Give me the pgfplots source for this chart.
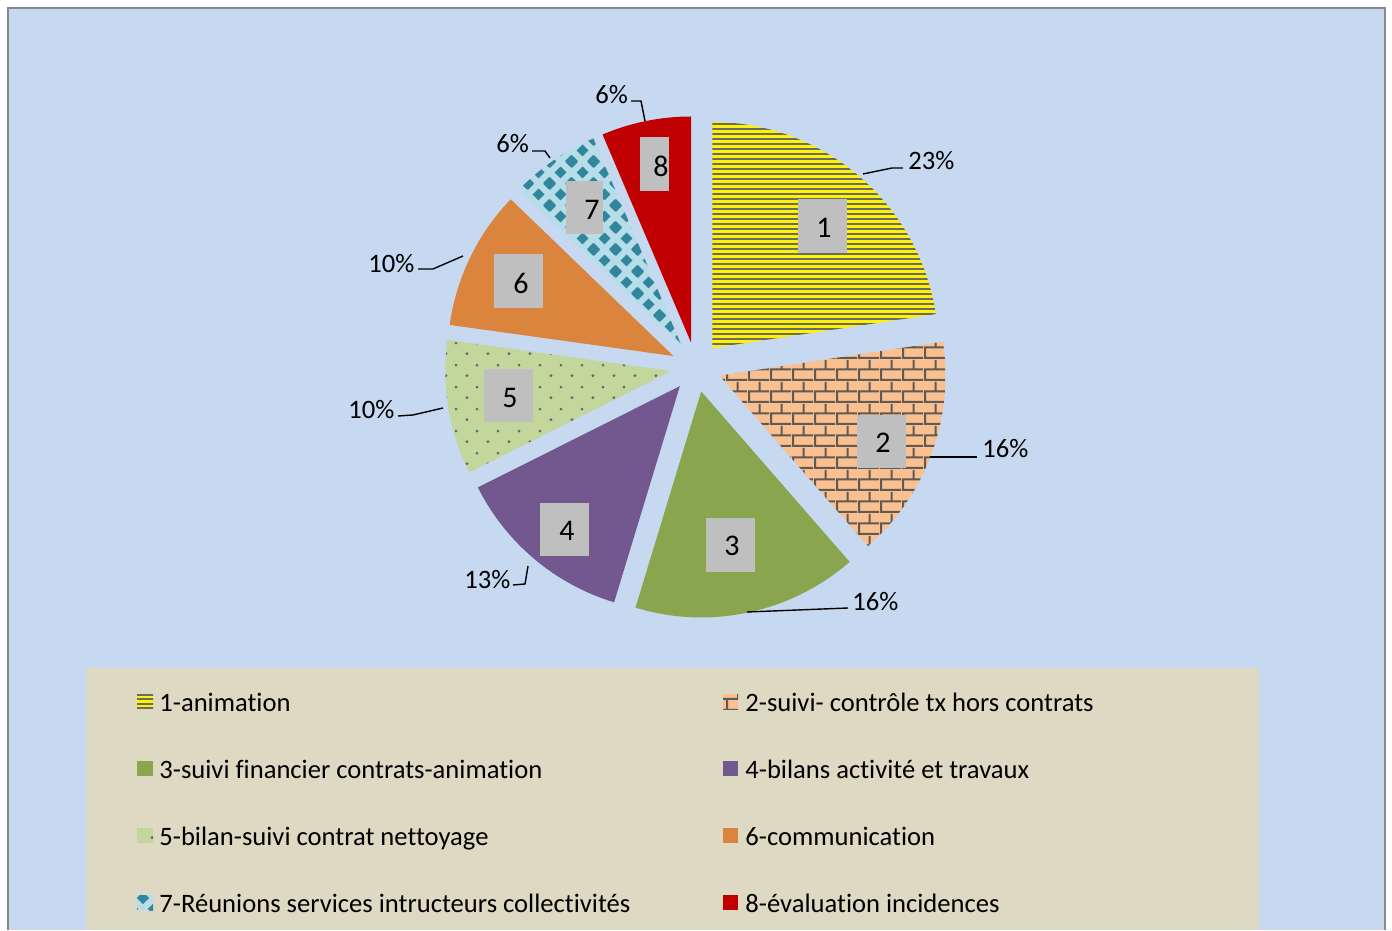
\documentclass[border=0pt]{standalone}
\usepackage{pgfplots}
\pgfplotsset{compat=1.18}
\usepackage{pgfplotstable}
\usepackage{fontspec}
\setmainfont{Carlito}[Ligatures={NoCommon,NoRequired,NoContextual}]
\usetikzlibrary{patterns}

\definecolor{bgblue}{HTML}{C6D9F1}
\definecolor{legbg}{HTML}{DDD9C3}
\definecolor{framegray}{HTML}{888888}
\definecolor{stripegray}{HTML}{6A6A6A}
\definecolor{peach}{HTML}{FAC090}
\definecolor{mortar}{HTML}{5F5A56}
\definecolor{olivegreen}{HTML}{89A64F}
\definecolor{purp}{HTML}{72588F}
\definecolor{lightgreen}{HTML}{C3D69B}
\definecolor{dotgray}{HTML}{666666}
\definecolor{orng}{HTML}{DB843D}
\definecolor{lightblue}{HTML}{B7DEE8}
\definecolor{teal}{HTML}{31859C}
\definecolor{darkred}{HTML}{C00000}
\definecolor{boxgray}{HTML}{BFBFBF}

\pgfdeclarepatternformonly{hstripes}{\pgfqpoint{0pt}{0pt}}{\pgfqpoint{300pt}{2.25pt}}{\pgfqpoint{300pt}{2.25pt}}{%
  \pgfpathrectangle{\pgfqpoint{0pt}{0.6pt}}{\pgfqpoint{300pt}{1.05pt}}\pgfusepath{fill}}
\pgfdeclarepatternformonly{mybricks}{\pgfqpoint{0pt}{0pt}}{\pgfqpoint{11pt}{11pt}}{\pgfqpoint{11pt}{11pt}}{%
  \pgfpathrectangle{\pgfqpoint{0pt}{0pt}}{\pgfqpoint{11pt}{1.1pt}}%
  \pgfpathrectangle{\pgfqpoint{0pt}{5.5pt}}{\pgfqpoint{11pt}{1.1pt}}%
  \pgfpathrectangle{\pgfqpoint{0pt}{0pt}}{\pgfqpoint{1.1pt}{5.5pt}}%
  \pgfpathrectangle{\pgfqpoint{5.5pt}{5.5pt}}{\pgfqpoint{1.1pt}{5.5pt}}%
  \pgfusepath{fill}}
\pgfdeclarepatternformonly{mydots}{\pgfqpoint{0pt}{0pt}}{\pgfqpoint{10.5pt}{11pt}}{\pgfqpoint{10.5pt}{11pt}}{%
  \pgfpathcircle{\pgfqpoint{2.6pt}{2.75pt}}{0.8pt}%
  \pgfpathcircle{\pgfqpoint{7.85pt}{8.25pt}}{0.8pt}%
  \pgfusepath{fill}}
\newcommand\diam[2]{%
  \pgfpathmoveto{\pgfpoint{#1pt-3.1pt}{#2pt}}%
  \pgfpathlineto{\pgfpoint{#1pt}{#2pt+3.1pt}}%
  \pgfpathlineto{\pgfpoint{#1pt+3.1pt}{#2pt}}%
  \pgfpathlineto{\pgfpoint{#1pt}{#2pt-3.1pt}}%
  \pgfpathclose}
\pgfdeclarepatternformonly{mydiam}{\pgfqpoint{0pt}{0pt}}{\pgfqpoint{11pt}{11pt}}{\pgfqpoint{11pt}{11pt}}{%
  \diam{0}{0}\diam{11}{0}\diam{0}{11}\diam{11}{11}\diam{5.5}{5.5}%
  \pgfusepath{fill}}

\tikzset{
  slice1/.style={preaction={fill=yellow}, pattern=hstripes, pattern color=stripegray},
  slice2/.style={preaction={fill=peach}, pattern=mybricks, pattern color=mortar},
  slice3/.style={fill=olivegreen},
  slice4/.style={fill=purp},
  slice5/.style={preaction={fill=lightgreen}, pattern=mydots, pattern color=dotgray},
  slice6/.style={fill=orng},
  slice7/.style={preaction={fill=lightblue}, pattern=mydiam, pattern color=teal},
  slice8/.style={fill=darkred},
  pct/.style={anchor=west, inner sep=0pt, text depth=0pt, font=\fontsize{13.3}{16}\selectfont},
  num/.style={inner sep=0pt, text depth=0pt, font=\fontsize{15}{18}\selectfont},
  leg/.style={anchor=west, inner sep=0pt, text depth=0pt, font=\fontsize{13.3}{16}\selectfont},
  lead/.style={black, line width=0.7pt},
}

\pgfplotstableread{
n pct
1 22.6
2 16.0
3 16.1
4 12.9
5 9.6
6 10.0
7 6.4
8 6.4
}\piedata

\begin{document}
\begin{tikzpicture}
\def\pieCum{90}
\pgfplotsforeachungrouped \i in {1,2,...,8}{%
  \pgfmathtruncatemacro\pieRow{\i-1}%
  \pgfplotstablegetelem{\pieRow}{pct}\of\piedata
  \pgfmathsetmacro\pieSt{\pieCum}%
  \pgfmathsetmacro\pieEn{\pieCum-3.6*\pgfplotsretval}%
  \pgfmathsetmacro\pieMd{(\pieSt+\pieEn)/2}%
  \pgfmathsetmacro\pieAx{696+25*cos(\pieMd)}%
  \pgfmathsetmacro\pieAy{563+25*sin(\pieMd)}%
  \expandafter\xdef\csname pieS\i\endcsname{\pieSt}%
  \expandafter\xdef\csname pieE\i\endcsname{\pieEn}%
  \expandafter\xdef\csname pieX\i\endcsname{\pieAx}%
  \expandafter\xdef\csname pieY\i\endcsname{\pieAy}%
  \xdef\pieCum{\pieEn}%
}
\begin{axis}[scale only axis, width=696pt, height=465pt,
  xmin=0, xmax=1392, ymin=0, ymax=930, hide axis, clip=false]
\fill[white] (axis cs:0,0) rectangle (axis cs:1392,930);
\fill[bgblue] (axis cs:9,0) rectangle (axis cs:1384,921);
\draw[framegray, line width=1pt] (axis cs:8,0) -- (axis cs:8,921.5) -- (axis cs:1384.5,921.5) -- (axis cs:1384.5,0);

% pie slices (exploded)
\pgfplotsinvokeforeach{1,...,8}{%
  \fill[slice#1] (axis cs:\csname pieX#1\endcsname,\csname pieY#1\endcsname)
     -- ++(\csname pieS#1\endcsname:113pt)
     arc[start angle=\csname pieS#1\endcsname, end angle=\csname pieE#1\endcsname, radius=113pt] -- cycle;
}

% category label boxes
\fill[boxgray] (axis cs:798,677) rectangle (axis cs:847,731);
\node[num] at (axis cs:824,702) {1};
\fill[boxgray] (axis cs:857,462) rectangle (axis cs:906,515);
\node[num] at (axis cs:883,487) {2};
\fill[boxgray] (axis cs:706,358) rectangle (axis cs:755,412);
\node[num] at (axis cs:732,384) {3};
\fill[boxgray] (axis cs:540,374) rectangle (axis cs:589,427);
\node[num] at (axis cs:567,399) {4};
\fill[boxgray] (axis cs:484,508) rectangle (axis cs:533,561);
\node[num] at (axis cs:510,532) {5};
\fill[boxgray] (axis cs:494,622) rectangle (axis cs:543,676);
\node[num] at (axis cs:521,647) {6};
\fill[boxgray] (axis cs:566,696) rectangle (axis cs:603,749);
\node[num] at (axis cs:592,720) {7};
\fill[boxgray] (axis cs:640,739) rectangle (axis cs:669,793);
\node[num] at (axis cs:661,764) {8};

% percentage labels with leader lines
\draw[lead] (axis cs:863,756) -- (axis cs:892,762) -- (axis cs:903,762);
\node[pct] at (axis cs:908,770) {23\%};
\draw[lead] (axis cs:930,473) -- (axis cs:977,473);
\node[pct] at (axis cs:982,482) {16\%};
\draw[lead] (axis cs:747,318) -- (axis cs:848,322);
\node[pct] at (axis cs:852,329) {16\%};
\draw[lead] (axis cs:528,364) -- (axis cs:525,346) -- (axis cs:513,345);
\node[pct] at (axis cs:464,351) {13\%};
\draw[lead] (axis cs:443,522) -- (axis cs:413,515) -- (axis cs:398,514);
\node[pct] at (axis cs:348,521) {10\%};
\draw[lead] (axis cs:463,674) -- (axis cs:433,661) -- (axis cs:418,661);
\node[pct] at (axis cs:368,667) {10\%};
\draw[lead] (axis cs:532,779) -- (axis cs:545,779) -- (axis cs:550,772);
\node[pct] at (axis cs:496,787) {6\%};
\draw[lead] (axis cs:631,829) -- (axis cs:641,829) -- (axis cs:645,809);
\node[pct] at (axis cs:595,836) {6\%};

% legend
\fill[legbg] (axis cs:86,0) rectangle (axis cs:1259,262);
\fill[slice1] (axis cs:137,220.5) rectangle (axis cs:153,235.5);
\node[leg] at (axis cs:159,228) {1-animation};
\fill[slice2] (axis cs:723,220.5) rectangle (axis cs:738,235.5);
\node[leg] at (axis cs:745,228) {2-suivi- contrôle tx hors contrats};
\fill[slice3] (axis cs:137,153.5) rectangle (axis cs:153,168.5);
\node[leg] at (axis cs:159,161) {3-suivi financier contrats-animation};
\fill[slice4] (axis cs:723,153.5) rectangle (axis cs:738,168.5);
\node[leg] at (axis cs:745,161) {4-bilans activité et travaux};
\fill[slice5] (axis cs:137,86.5) rectangle (axis cs:153,101.5);
\node[leg] at (axis cs:159,94) {5-bilan-suivi contrat nettoyage};
\fill[slice6] (axis cs:723,86.5) rectangle (axis cs:738,101.5);
\node[leg] at (axis cs:745,94) {6-communication};
\fill[slice7] (axis cs:137,19.5) rectangle (axis cs:153,34.5);
\node[leg] at (axis cs:159,27) {7-Réunions services intructeurs collectivités};
\fill[slice8] (axis cs:723,19.5) rectangle (axis cs:738,34.5);
\node[leg] at (axis cs:745,27) {8-évaluation incidences};
\end{axis}
\end{tikzpicture}
\end{document}
